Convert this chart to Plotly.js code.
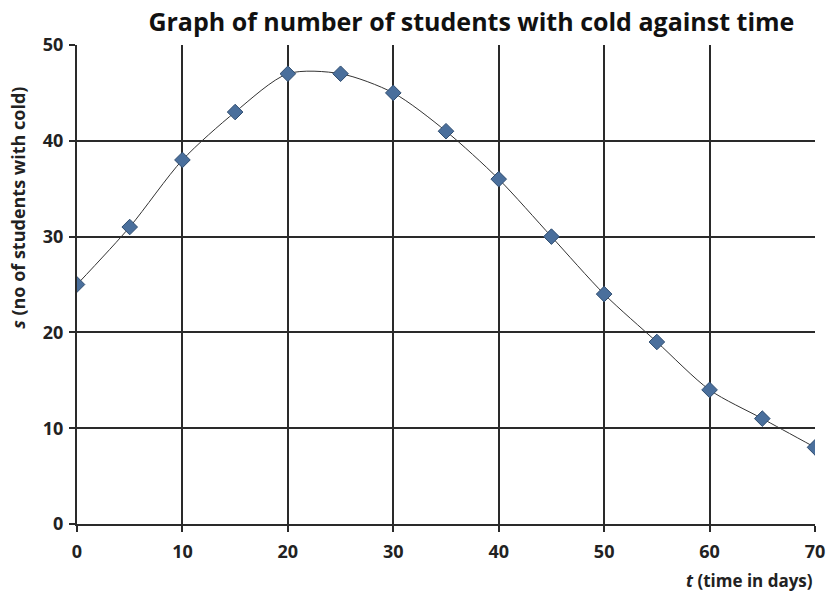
<!DOCTYPE html>
<html>
<head>
<meta charset="utf-8">
<script src="https://cdn.plot.ly/plotly-3.0.1.min.js"></script>
<style>html,body{margin:0;padding:0;background:#fff;}#chart{width:827px;height:597px;}</style>
</head>
<body>
<div id="chart"></div>
<script>
const days = [0, 5, 10, 15, 20, 25, 30, 35, 40, 45, 50, 55, 60, 65, 70];
const students = [25, 31, 38, 43, 47, 47, 45, 41, 36, 30, 24, 19, 14, 11, 8];
const xTicks = [0, 10, 20, 30, 40, 50, 60, 70];
const yTicks = [0, 10, 20, 30, 40, 50];
const titleText = 'Graph of number of students with cold against time';
const xTitle = '<i>t</i> (time in days)';
const yTitle = '<i>s</i> (no of students with cold)';

const font = "'Open Sans', 'Liberation Sans', sans-serif";

const trace = {
  x: days, y: students, type: 'scatter', mode: 'lines+markers',
  line: {shape: 'spline', smoothing: 0.8, color: '#333333', width: 1},
  marker: {symbol: 'diamond', size: 12, color: '#4a6f9c', line: {color: '#2f4d70', width: 1}},
  hoverinfo: 'x+y'
};

const axisCommon = {
  showgrid: true, gridcolor: '#2a2a2a', gridwidth: 2,
  showline: true, linecolor: '#2a2a2a', linewidth: 2,
  ticks: 'outside', ticklen: 6, tickcolor: '#2a2a2a', tickwidth: 2,
  zeroline: false, fixedrange: true,
  tickfont: {family: font, size: 18, color: '#222', weight: 'bold'}
};

const layout = {
  width: 827, height: 597,
  paper_bgcolor: '#fff', plot_bgcolor: '#fff',
  margin: {l: 77, r: 12, t: 45, b: 73},
  showlegend: false,
  title: {text: '<b>' + titleText + '</b>', x: 0.57, xanchor: 'center', y: 0.963, yanchor: 'middle',
          font: {family: font, size: 25, color: '#111'}},
  xaxis: Object.assign({}, axisCommon, {range: [0, 70], tickvals: xTicks, ticktext: xTicks.map(String), ticklabelstandoff: 4}),
  yaxis: Object.assign({}, axisCommon, {range: [0, 50], tickvals: yTicks, ticktext: yTicks.map(String), ticklabelstandoff: 2}),
  annotations: [
    {text: '<b>' + xTitle + '</b>', xref: 'paper', yref: 'paper', x: 1.0, y: -0.117, xanchor: 'right', yanchor: 'middle',
     showarrow: false, font: {family: font, size: 17, color: '#222'}},
    {text: '<b>' + yTitle + '</b>', xref: 'paper', yref: 'paper', x: -0.08, y: 0.66, xanchor: 'center', yanchor: 'middle',
     textangle: -90, showarrow: false, font: {family: font, size: 18, color: '#222'}}
  ]
};

Plotly.newPlot('chart', [trace], layout, {displayModeBar: false, staticPlot: true});
</script>
</body>
</html>
